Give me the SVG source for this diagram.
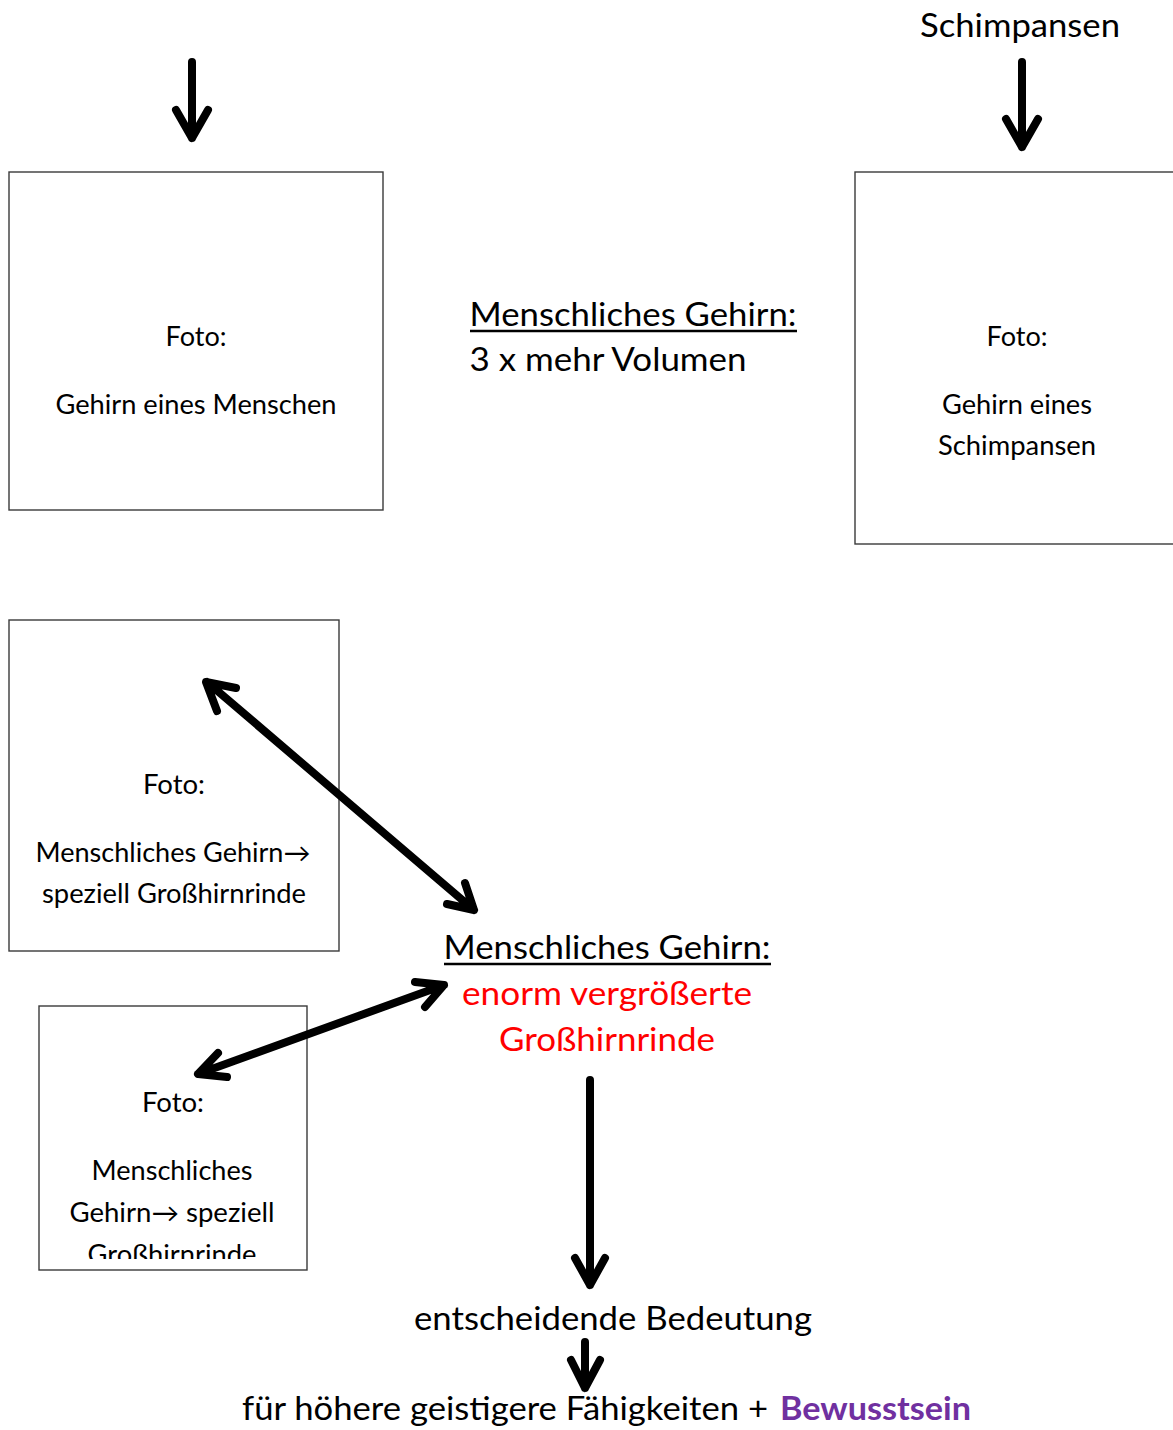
<svg xmlns="http://www.w3.org/2000/svg" width="1173" height="1430" viewBox="0 0 1173 1430">
<style>
.box{fill:#fff;stroke:#3a3a3a;stroke-width:1.4}
.t{font-family:Lato,"Liberation Sans",sans-serif;fill:#000;text-anchor:middle}
.s{font-size:26px}
.l{font-size:33px}
.red{fill:#ff0000}
.ul{stroke:#000;stroke-width:2.5}
.arr{fill:none;stroke:#000;stroke-width:8;stroke-linecap:round;stroke-linejoin:round}
</style>
<defs>
<clipPath id="c4"><rect x="39" y="1006" width="268" height="253"/></clipPath>
</defs>
<rect width="1173" height="1430" fill="#fff"/>
<g id="n-schimp-label">
<text class="t l" x="1020" y="37" textLength="200" lengthAdjust="spacingAndGlyphs">Schimpansen</text>
</g>
<g id="n-box1">
<rect class="box" x="9" y="172" width="374" height="338"/>
<text class="t s" x="196" y="346" textLength="61" lengthAdjust="spacingAndGlyphs">Foto:</text>
<text class="t s" x="196" y="414" textLength="281" lengthAdjust="spacingAndGlyphs">Gehirn eines Menschen</text>
</g>
<g id="n-box2">
<rect class="box" x="855" y="172" width="330" height="372"/>
<text class="t s" x="1017" y="346" textLength="61" lengthAdjust="spacingAndGlyphs">Foto:</text>
<text class="t s" x="1017" y="414" textLength="150" lengthAdjust="spacingAndGlyphs">Gehirn eines</text>
<text class="t s" x="1017" y="455" textLength="158" lengthAdjust="spacingAndGlyphs">Schimpansen</text>
</g>
<g id="n-volumen">
<text class="t l" x="633" y="326" textLength="327" lengthAdjust="spacingAndGlyphs">Menschliches Gehirn:</text>
<line class="ul" x1="470" y1="331" x2="797" y2="331"/>
<text class="t l" x="608" y="371" textLength="277" lengthAdjust="spacingAndGlyphs">3 x mehr Volumen</text>
</g>
<g id="n-box3">
<rect class="box" x="9" y="620" width="330" height="331"/>
<text class="t s" x="174" y="794" textLength="62" lengthAdjust="spacingAndGlyphs">Foto:</text>
<text class="t s" x="173" y="862" textLength="275" lengthAdjust="spacingAndGlyphs">Menschliches Gehirn→</text>
<text class="t s" x="174" y="903" textLength="264" lengthAdjust="spacingAndGlyphs">speziell Großhirnrinde</text>
</g>
<g id="n-box4">
<rect class="box" x="39" y="1006" width="268" height="264"/>
<g clip-path="url(#c4)">
<text class="t s" x="173" y="1112" textLength="62" lengthAdjust="spacingAndGlyphs">Foto:</text>
<text class="t s" x="172" y="1180" textLength="161" lengthAdjust="spacingAndGlyphs">Menschliches</text>
<text class="t s" x="172" y="1222" textLength="205" lengthAdjust="spacingAndGlyphs">Gehirn→ speziell</text>
<text class="t s" x="172" y="1264" textLength="169" lengthAdjust="spacingAndGlyphs">Großhirnrinde</text>
</g>
</g>
<g id="n-grosshirn">
<text class="t l" x="607" y="959" textLength="327" lengthAdjust="spacingAndGlyphs">Menschliches Gehirn:</text>
<line class="ul" x1="444" y1="964" x2="771" y2="964"/>
<text class="t l red" x="607" y="1005" textLength="290" lengthAdjust="spacingAndGlyphs">enorm vergrößerte</text>
<text class="t l red" x="607" y="1051" textLength="216" lengthAdjust="spacingAndGlyphs">Großhirnrinde</text>
</g>
<g id="n-bedeutung">
<text class="t l" x="613" y="1330" textLength="398" lengthAdjust="spacingAndGlyphs">entscheidende Bedeutung</text>
</g>
<g id="n-faehigkeiten">
<text class="t l" x="242" y="1420" style="text-anchor:start" textLength="526" lengthAdjust="spacingAndGlyphs">für höhere geistigere Fähigkeiten +</text>
<text class="t l" x="780" y="1420" style="text-anchor:start;font-weight:bold;fill:#7030a0" textLength="191" lengthAdjust="spacingAndGlyphs">Bewusstsein</text>
</g>
<g id="connectors">
<path class="arr" d="M192 62 V138 M176 110 L192 138 L208 110"/>
<path class="arr" d="M1022 62 V147 M1006 119 L1022 147 L1038 119"/>
<path class="arr" d="M207 682 L474 910 M236 688 L206 682 L217 711 M447 904 L474 910 L465 883"/>
<path class="arr" d="M198 1074 L444 985 M218 1053 L198 1074 L227 1077 M415 982 L444 985 L425 1007"/>
<path class="arr" d="M590 1080 V1285 M575 1258 L590 1285 L605 1258"/>
<path class="arr" d="M585 1342 V1388 M571 1360 L585 1388 L600 1360"/>
</g>
</svg>
